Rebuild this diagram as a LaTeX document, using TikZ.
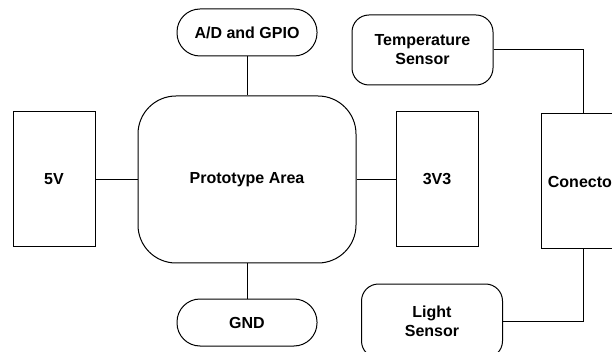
\documentclass[tikz,border=0pt]{standalone}
\usepackage{fontspec}
\setmainfont{Liberation Sans}
\usetikzlibrary{positioning}

\begin{document}
\begin{tikzpicture}[x=1pt, y=-1pt,
    every node/.style={font=\bfseries\fontsize{16}{19}\selectfont},
    block/.style={draw, line width=1pt, minimum width=82pt, minimum height=135pt,
                  align=center, inner sep=0pt},
    area/.style={draw, line width=1pt, rounded corners=38pt, minimum width=218pt,
                 minimum height=167pt},
    pill/.style={draw, line width=1pt, rounded corners=23pt, minimum width=140pt,
                 minimum height=47pt},
    sensor/.style={draw, line width=1pt, rounded corners=17pt, minimum width=141pt,
                   minimum height=70pt, align=center},
    wire/.style={line width=1pt}
]
    \useasboundingbox (0,0) rectangle (612,352);
    \clip (0,0) rectangle (612,352);

    % Prototype area
    \node[area] (proto) at (247,179.5) {Prototype Area};

    % I/O and ground
    \node[pill, above=39pt of proto] (adio) {A/D and GPIO};
    \node[pill, below=35pt of proto] (gnd) {GND};

    % Supplies
    \node[block, left=42pt of proto] (v5) {5V};
    \node[block, right=39pt of proto] (v33) {3V3};

    % Connector and sensors
    \node[block, minimum width=84pt] (con) at (583,181.5) {Conector};
    \node[sensor] (temp) at (422.5,50) {Temperature\\Sensor};
    \node[sensor, minimum height=74pt] (light) at (432,321) {Light\\Sensor};

    % Wires
    \draw[wire] (v5) -- (proto);
    \draw[wire] (proto) -- (v33);
    \draw[wire] (adio) -- (proto);
    \draw[wire] (proto) -- (gnd);
    \draw[wire] (temp.east) -| (con.north);
    \draw[wire] (light.east) -| (con.south);
\end{tikzpicture}
\end{document}
